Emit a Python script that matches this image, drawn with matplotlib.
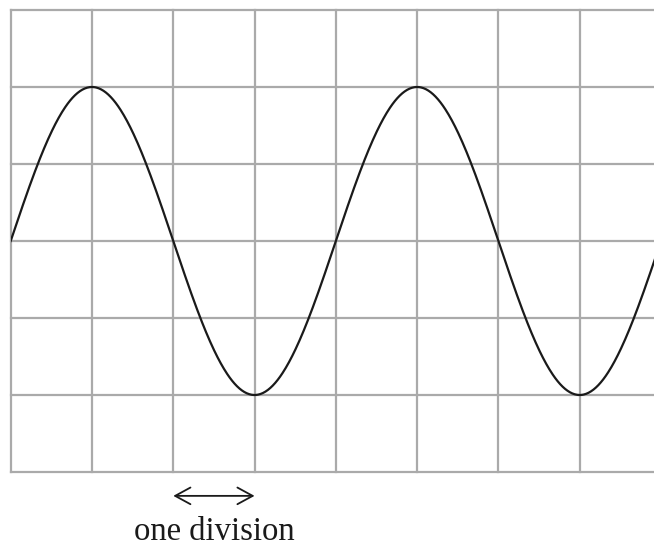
import numpy as np
import matplotlib.pyplot as plt

# screen divisions
n_cols = 8
n_rows = 6

# trace: amplitude and period in divisions
amplitude = 2.0
period = 4.0
phase = 0.0

label = "one division"
arrow_start = 2
arrow_end = 3

grid_color = "#aaaaaa"

fig = plt.figure(figsize=(6.54, 5.45), dpi=100)
ax = fig.add_axes([10.7 / 654, 73 / 545, 650.3 / 654, 462 / 545])
ax.set_xlim(0, n_cols)
ax.set_ylim(-n_rows / 2, n_rows / 2)
ax.axis("off")

for i in range(n_cols + 1):
    ax.axvline(i, color=grid_color, lw=1.6, zorder=1, clip_on=False)
for j in range(n_rows + 1):
    ax.axhline(j - n_rows / 2, color=grid_color, lw=1.6, zorder=1, clip_on=False)

t = np.linspace(0, n_cols, 800)
ax.plot(t, amplitude * np.sin(2 * np.pi * t / period + phase), color="#1a1a1a", lw=1.6, zorder=2)

ax.annotate("", xy=(arrow_start, -3.31), xytext=(arrow_end, -3.31),
            arrowprops=dict(arrowstyle="<->,head_length=1.1,head_width=0.6",
                            color="#1a1a1a", lw=1.3, shrinkA=0, shrinkB=0),
            annotation_clip=False)
ax.text((arrow_start + arrow_end) / 2, -3.88, label, ha="center", va="baseline",
        fontsize=23.5, family="Liberation Serif", color="#1a1a1a")

fig.savefig("out.png", dpi=100)
